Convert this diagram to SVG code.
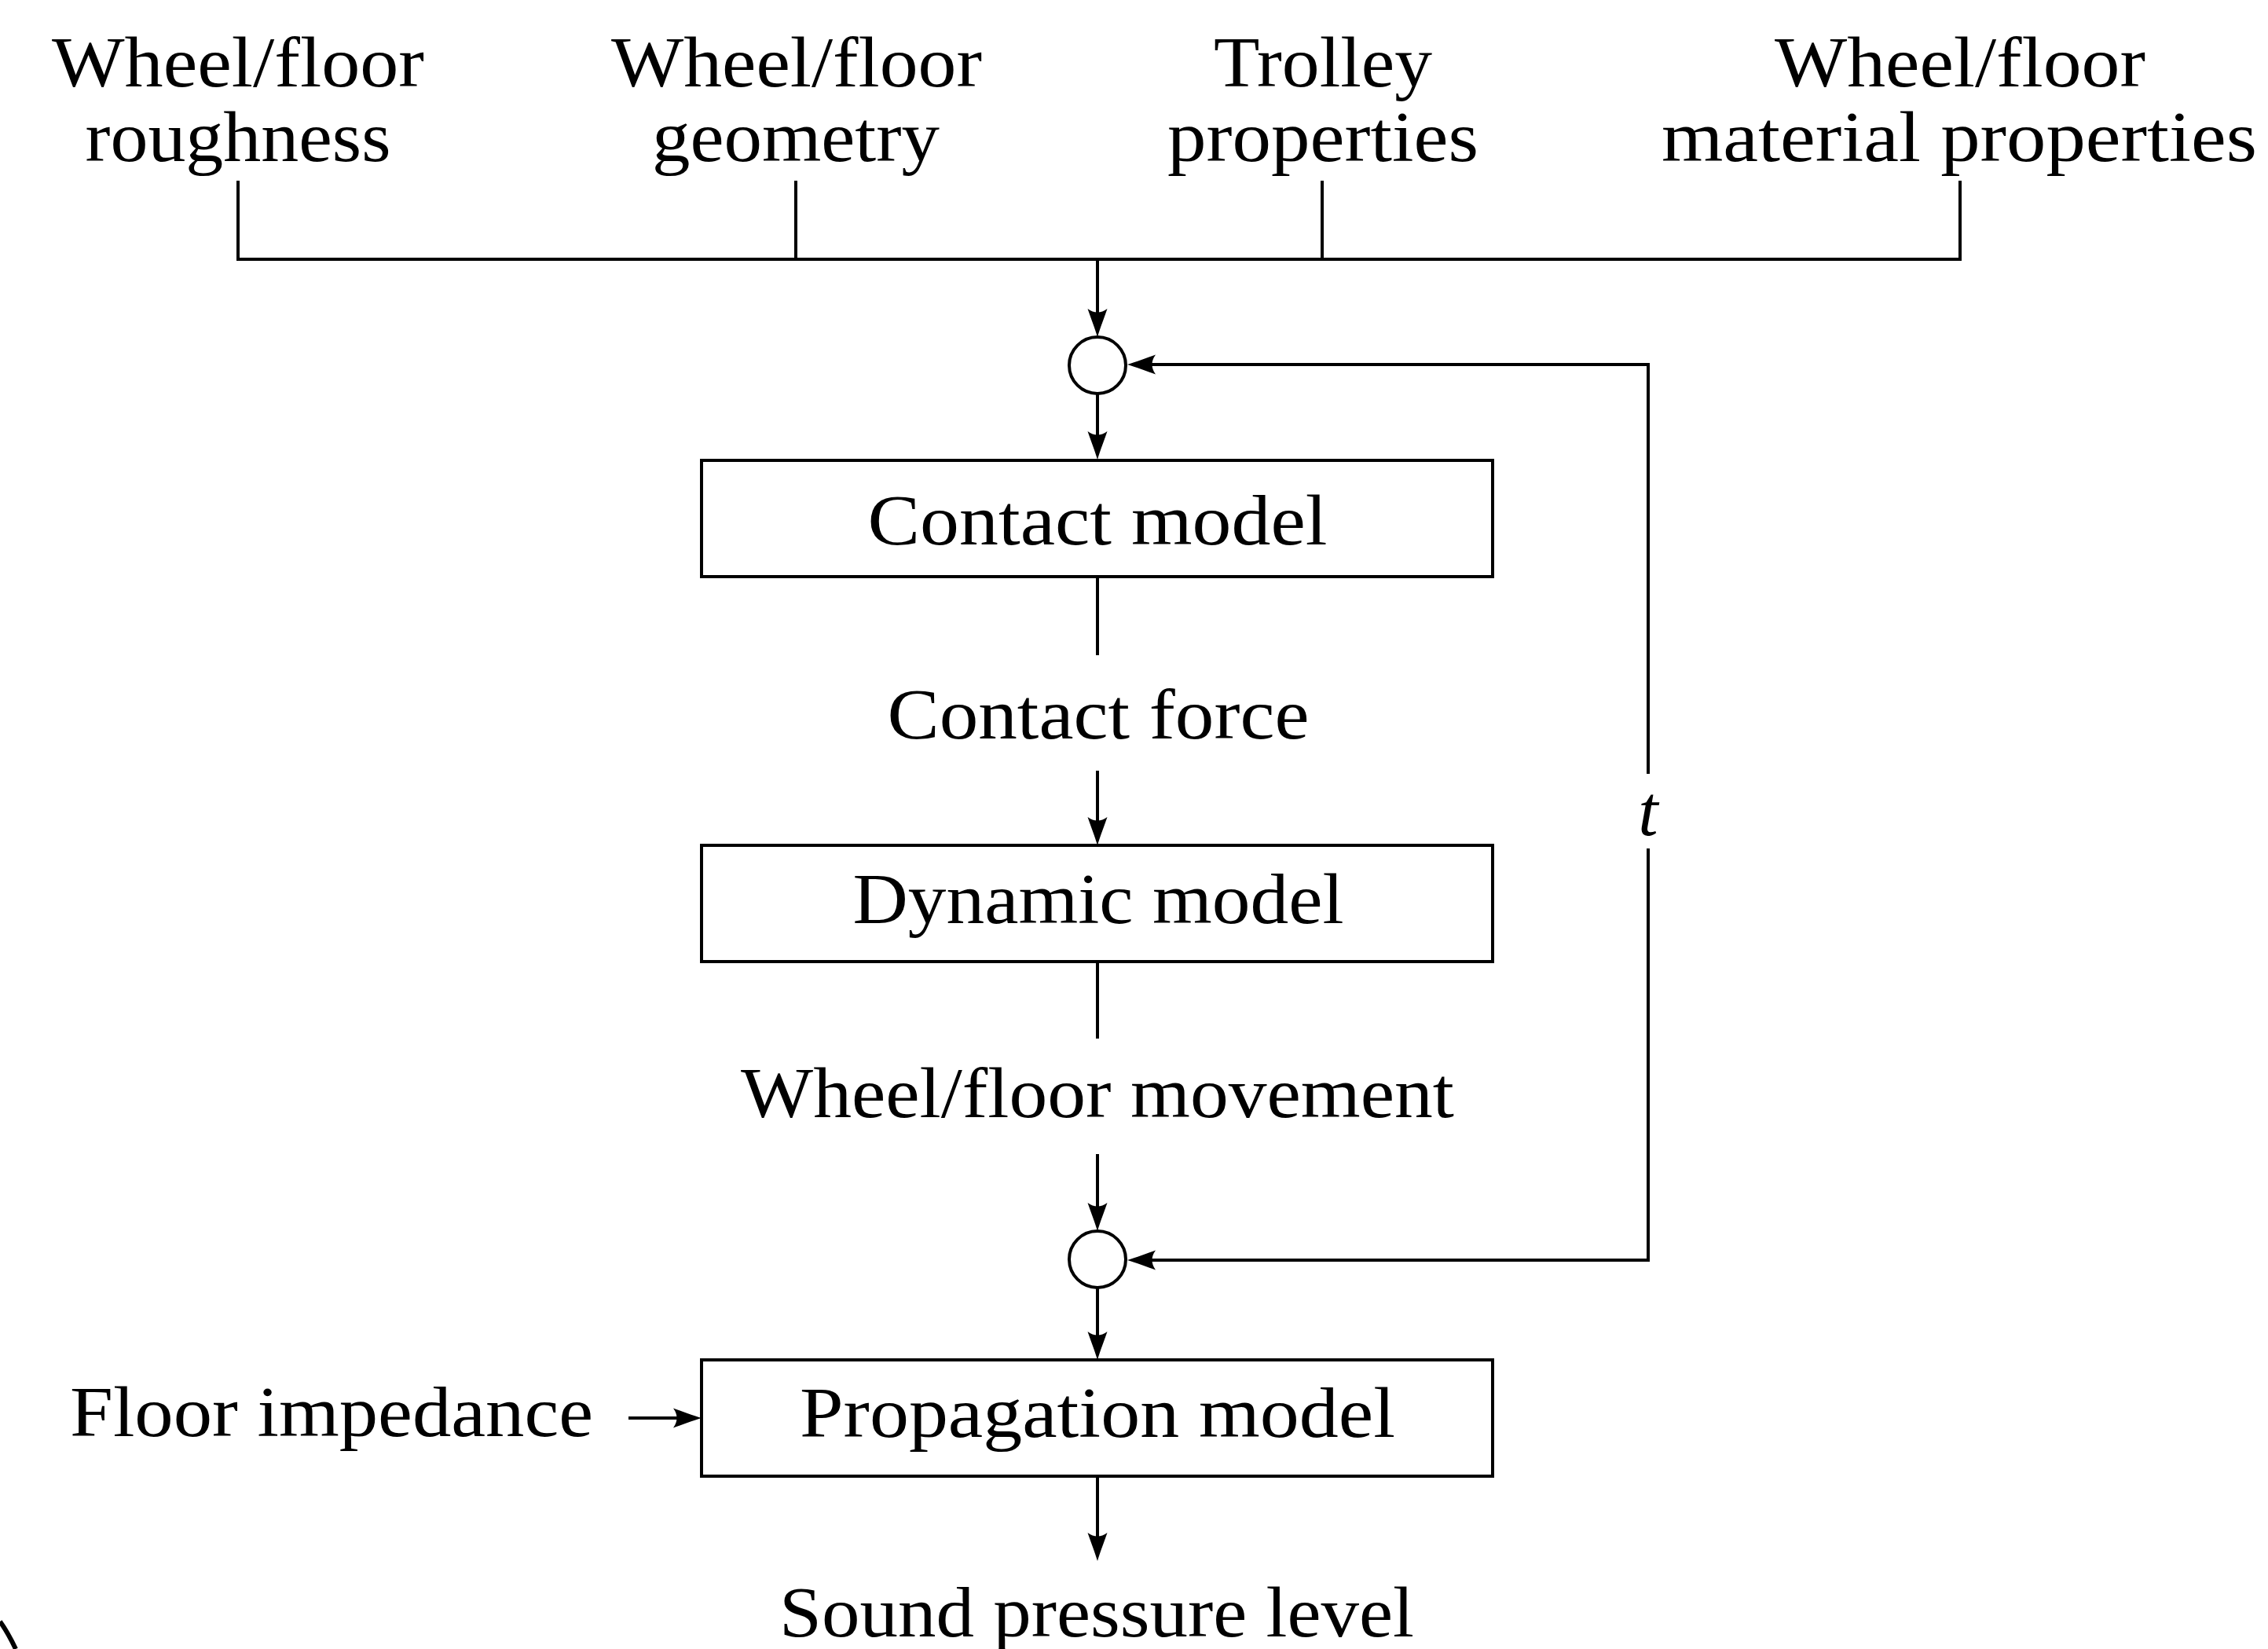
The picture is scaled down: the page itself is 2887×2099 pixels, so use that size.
<svg xmlns="http://www.w3.org/2000/svg" width="2887" height="2099" viewBox="0 0 2887 2099">
  <style>
    .bg { fill: #ffffff; }
    .lbl { font-family: "Liberation Serif", "DejaVu Serif", serif; font-size: 91px; fill: #000; text-anchor: middle; }
    .it { font-style: italic; }
    .box { fill: #ffffff; stroke: #000; stroke-width: 4; }
    .node { fill: #ffffff; stroke: #000; stroke-width: 4; }
    .wire { fill: none; stroke: #000; stroke-width: 4; }
    .arr { fill: none; stroke: #000; stroke-width: 4; marker-end: url(#ah); }
    .edge { fill: none; stroke: #000; stroke-width: 6; }
  </style>
  <defs>
    <marker id="ah" markerUnits="userSpaceOnUse" viewBox="-42 -16 47 32" refX="-12" refY="0" markerWidth="47" markerHeight="32" orient="auto">
      <path d="M0,0 C-10,-3 -26,-9 -36,-12.5 Q-27,0 -36,12.5 C-26,9 -10,3 0,0 Z" fill="#000"/>
    </marker>
  </defs>
  <rect class="bg" x="0" y="0" width="2887" height="2099"/>

  <g id="connectors">
    <path class="wire" d="M303,230 V330 H2495 V230 M1013,230 V330 M1683,230 V330"/>
    <path class="arr" d="M1397,330 V417"/>
    <path class="arr" d="M1397,501 V573"/>
    <path class="wire" d="M1397,734 V834"/>
    <path class="arr" d="M1397,981 V1064"/>
    <path class="wire" d="M1397,1224 V1322"/>
    <path class="arr" d="M1397,1469 V1555"/>
    <path class="arr" d="M1397,1639 V1719"/>
    <path class="arr" d="M1397,1878 V1975"/>
    <path class="arr" d="M800,1805 H881"/>
    <path class="arr" d="M2098,985 V464 H1447"/>
    <path class="arr" d="M2098,1080 V1604 H1447"/>
  </g>

  <g id="input-roughness">
    <text class="lbl" x="303" y="110" textLength="474" lengthAdjust="spacingAndGlyphs">Wheel/floor</text>
    <text class="lbl" x="303" y="205" textLength="389" lengthAdjust="spacingAndGlyphs">roughness</text>
  </g>
  <g id="input-geometry">
    <text class="lbl" x="1014" y="110" textLength="472" lengthAdjust="spacingAndGlyphs">Wheel/floor</text>
    <text class="lbl" x="1013" y="205" textLength="366" lengthAdjust="spacingAndGlyphs">geometry</text>
  </g>
  <g id="input-trolley">
    <text class="lbl" x="1684" y="110" textLength="278" lengthAdjust="spacingAndGlyphs">Trolley</text>
    <text class="lbl" x="1684" y="205" textLength="396" lengthAdjust="spacingAndGlyphs">properties</text>
  </g>
  <g id="input-material">
    <text class="lbl" x="2495" y="110" textLength="472" lengthAdjust="spacingAndGlyphs">Wheel/floor</text>
    <text class="lbl" x="2494" y="205" textLength="758" lengthAdjust="spacingAndGlyphs">material properties</text>
  </g>

  <g id="sum-top">
    <circle class="node" cx="1397" cy="465" r="36"/>
  </g>

  <g id="contact-model">
    <rect class="box" x="893" y="586" width="1007" height="148"/>
    <text class="lbl" x="1397" y="693" textLength="585" lengthAdjust="spacingAndGlyphs">Contact model</text>
  </g>

  <g id="contact-force">
    <text class="lbl" x="1398" y="940" textLength="537" lengthAdjust="spacingAndGlyphs">Contact force</text>
  </g>

  <g id="dynamic-model">
    <rect class="box" x="893" y="1076" width="1007" height="148"/>
    <text class="lbl" x="1398" y="1175" textLength="625" lengthAdjust="spacingAndGlyphs">Dynamic model</text>
  </g>

  <g id="wheel-floor-movement">
    <text class="lbl" x="1397" y="1422" textLength="908" lengthAdjust="spacingAndGlyphs">Wheel/floor movement</text>
  </g>

  <g id="sum-bottom">
    <circle class="node" cx="1397" cy="1603" r="36"/>
  </g>

  <g id="feedback-label">
    <text class="lbl it" x="2098" y="1063">t</text>
  </g>

  <g id="floor-impedance">
    <text class="lbl" x="422" y="1828" textLength="666" lengthAdjust="spacingAndGlyphs">Floor impedance</text>
  </g>

  <g id="propagation-model">
    <rect class="box" x="893" y="1731" width="1007" height="148"/>
    <text class="lbl" x="1397" y="1829" textLength="758" lengthAdjust="spacingAndGlyphs">Propagation model</text>
  </g>

  <g id="sound-pressure-level">
    <text class="lbl" x="1396" y="2083" textLength="808" lengthAdjust="spacingAndGlyphs">Sound pressure level</text>
  </g>

  <path class="edge" d="M0,2064 Q10,2078 20,2099"/>
</svg>
